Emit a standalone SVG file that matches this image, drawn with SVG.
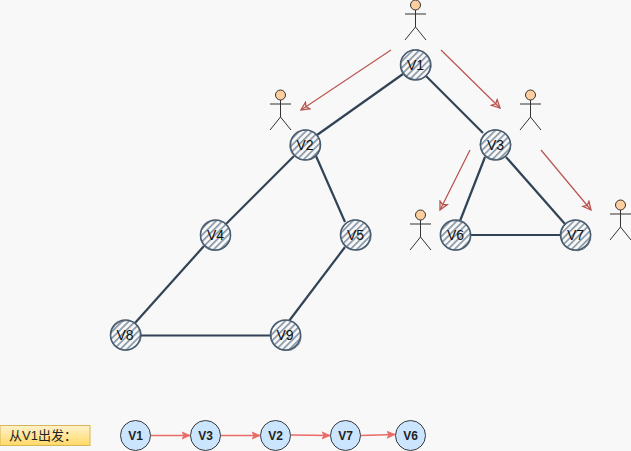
<svg xmlns="http://www.w3.org/2000/svg" width="631" height="451" viewBox="0 0 631 451">
<defs>
<pattern id="hatch" width="4.600" height="4.600" patternUnits="userSpaceOnUse" patternTransform="rotate(45)">
<rect width="4.600" height="4.600" fill="#f8f8f8"/><rect width="1.700" height="4.600" fill="#8a98a6"/>
</pattern>
<linearGradient id="yel" x1="0" y1="0" x2="0" y2="1"><stop offset="0" stop-color="#fff2cc"/><stop offset="1" stop-color="#ffd966"/></linearGradient>
<marker id="red" markerUnits="userSpaceOnUse" markerWidth="12" markerHeight="12" refX="9" refY="5" orient="auto" viewBox="0 0 12 10"><path d="M1 1L9 5L1 9L3 5Z" fill="none" stroke="#b85450" stroke-width="1.300"/></marker>
<marker id="pink" markerUnits="userSpaceOnUse" markerWidth="9" markerHeight="9" refX="8" refY="4" orient="auto" viewBox="0 0 9 8"><path d="M0 .5L8 4L0 7.500L2 4Z" fill="#ea6b66" stroke="#ea6b66" stroke-width=".8"/></marker>
</defs>
<style>
.e{stroke:#314354;stroke-width:2.200;fill:none}
.r{stroke:#b85450;stroke-width:1.200;fill:none;marker-end:url(#red)}
.p{stroke:#ea6b66;stroke-width:1.300;fill:none;marker-end:url(#pink)}
.h{fill:url(#hatch);stroke:#4a5d70;stroke-width:1.500}
.h2{fill:none;stroke:#4a5d70;stroke-width:.7}
.b{fill:#cce5ff;stroke:#36393d;stroke-width:1}
.t{font:14px "Liberation Sans",Arial,sans-serif;fill:#111;text-anchor:middle}
.tb{font:bold 12px "Liberation Sans",Arial,sans-serif;fill:#222;text-anchor:middle}
.a line{stroke:#333;stroke-width:1}
.a circle{fill:#ffce9f;stroke:#333;stroke-width:1}
</style>
<rect width="631" height="451" fill="#f8f8f8"/>
<g id="connectors">
<path class="e" d="M403 74L317 135"/>
<path class="e" d="M426 76L483 133"/>
<path class="e" d="M294 156L226 224"/>
<path class="e" d="M316 156L345 222"/>
<path class="e" d="M204 246L135 323"/>
<path class="e" d="M345 247L289 321"/>
<path class="e" d="M485 157L460 221"/>
<path class="e" d="M506 157L565 224"/>
<path class="e" d="M470 235L561 235"/>
<path class="e" d="M140 335.500L270 335.500"/>
<path class="r" d="M391 50L301 110"/>
<path class="r" d="M441 50L500 108"/>
<path class="r" d="M470 150L440 210"/>
<path class="r" d="M541 150L591 210"/>
<path class="p" d="M151 435.500L190 435.500"/>
<path class="p" d="M221 435.500L260 435.500"/>
<path class="p" d="M291 435L330 435.500"/>
<path class="p" d="M361 435.500L395 434.500"/>
</g>
<g id="V1"><circle class="h" cx="415.500" cy="65" r="15"/><ellipse class="h2" cx="416" cy="64.500" rx="15.500" ry="14.800" transform="rotate(30 416 64.500)"/><text class="t" x="415.500" y="70">V1</text></g>
<g id="V2"><circle class="h" cx="305.500" cy="145" r="15"/><ellipse class="h2" cx="305" cy="145" rx="15.500" ry="14.800" transform="rotate(-30 305 145)"/><text class="t" x="305" y="150">V2</text></g>
<g id="V3"><circle class="h" cx="495.500" cy="145" r="15"/><ellipse class="h2" cx="495.500" cy="144.500" rx="15.500" ry="14.800" transform="rotate(20 495.500 144.500)"/><text class="t" x="495.500" y="150">V3</text></g>
<g id="V4"><circle class="h" cx="215.500" cy="235" r="15"/><ellipse class="h2" cx="215.500" cy="235.500" rx="15.500" ry="14.800" transform="rotate(-40 215.500 235.500)"/><text class="t" x="215.500" y="240">V4</text></g>
<g id="V5"><circle class="h" cx="355.500" cy="235" r="15"/><ellipse class="h2" cx="356" cy="235" rx="15.500" ry="14.800" transform="rotate(40 356 235)"/><text class="t" x="355.500" y="240">V5</text></g>
<g id="V6"><circle class="h" cx="455.500" cy="235" r="15"/><ellipse class="h2" cx="455.500" cy="235.500" rx="15.500" ry="14.800" transform="rotate(10 455.500 235.500)"/><text class="t" x="455.500" y="240">V6</text></g>
<g id="V7"><circle class="h" cx="575.500" cy="235" r="15"/><ellipse class="h2" cx="576" cy="235.500" rx="15.500" ry="14.800" transform="rotate(60 576 235.500)"/><text class="t" x="575.500" y="240">V7</text></g>
<g id="V8"><circle class="h" cx="125.500" cy="335" r="15"/><ellipse class="h2" cx="126" cy="335.500" rx="15.500" ry="14.800" transform="rotate(-20 126 335.500)"/><text class="t" x="125" y="340">V8</text></g>
<g id="V9"><circle class="h" cx="285.500" cy="335" r="15"/><ellipse class="h2" cx="286" cy="335.500" rx="15.500" ry="14.800" transform="rotate(50 286 335.500)"/><text class="t" x="285" y="340">V9</text></g>
<g id="actor1" class="a"><circle cx="415.500" cy="5" r="5"/><line x1="415.500" y1="10" x2="415.500" y2="27"/><line x1="405" y1="14" x2="426" y2="14"/><line x1="415.500" y1="27" x2="405" y2="40"/><line x1="415.500" y1="27" x2="426" y2="40"/></g>
<g id="actor2" class="a"><circle cx="280.500" cy="95" r="5"/><line x1="280.500" y1="100" x2="280.500" y2="117"/><line x1="270" y1="104" x2="291" y2="104"/><line x1="280.500" y1="117" x2="270" y2="130"/><line x1="280.500" y1="117" x2="291" y2="130"/></g>
<g id="actor3" class="a"><circle cx="530.500" cy="95" r="5"/><line x1="530.500" y1="100" x2="530.500" y2="117"/><line x1="520" y1="104" x2="541" y2="104"/><line x1="530.500" y1="117" x2="520" y2="130"/><line x1="530.500" y1="117" x2="541" y2="130"/></g>
<g id="actor4" class="a"><circle cx="420.500" cy="215" r="5"/><line x1="420.500" y1="220" x2="420.500" y2="237"/><line x1="410" y1="224" x2="431" y2="224"/><line x1="420.500" y1="237" x2="410" y2="250"/><line x1="420.500" y1="237" x2="431" y2="250"/></g>
<g id="actor5" class="a"><circle cx="620.500" cy="205" r="5"/><line x1="620.500" y1="210" x2="620.500" y2="227"/><line x1="610" y1="214" x2="631" y2="214"/><line x1="620.500" y1="227" x2="610" y2="240"/><line x1="620.500" y1="227" x2="631" y2="240"/></g>
<g id="label"><rect x="0" y="425.500" width="90" height="20" fill="url(#yel)" stroke="#d6b656"/><text x="9" y="440" style="font:13px 'Liberation Sans','Noto Sans CJK SC',sans-serif;fill:#222">从V1出发：</text></g>
<g id="S1"><circle class="b" cx="135.500" cy="435.500" r="15"/><text class="tb" x="135.500" y="440">V1</text></g>
<g id="S3"><circle class="b" cx="205.500" cy="435.500" r="15"/><text class="tb" x="205.500" y="440">V3</text></g>
<g id="S2"><circle class="b" cx="275.500" cy="435.500" r="15"/><text class="tb" x="275.500" y="440">V2</text></g>
<g id="S7"><circle class="b" cx="345.500" cy="435.500" r="15"/><text class="tb" x="345.500" y="440">V7</text></g>
<g id="S6"><circle class="b" cx="410.500" cy="435.500" r="15"/><text class="tb" x="410.500" y="440">V6</text></g>
</svg>
